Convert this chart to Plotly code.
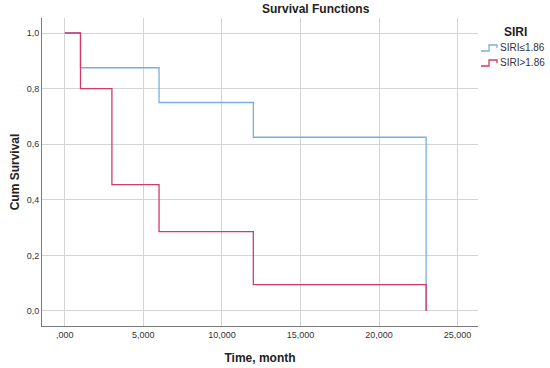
import plotly.graph_objects as go

# Data
time_low = [0, 1, 6, 12, 23]
surv_low = [1.0, 0.875, 0.75, 0.625, 0.0]
time_high = [0, 1, 3, 6, 12, 23]
surv_high = [1.0, 0.8, 0.4545, 0.2857, 0.0952, 0.0]
series_names = ["SIRI≤1.86", "SIRI>1.86"]
x_ticks = [0, 5, 10, 15, 20, 25]
x_ticklabels = [",000", "5,000", "10,000", "15,000", "20,000", "25,000"]
y_ticks = [0, 0.2, 0.4, 0.6, 0.8, 1.0]
y_ticklabels = ["0,0", "0,2", "0,4", "0,6", "0,8", "1,0"]

blue = "#7aaee0"
red = "#d43a68"
colors = [blue, red]
font = "Liberation Sans, Arial, sans-serif"

W, H = 550, 368
L, R, T, B = 42, 478, 18, 326


def px(x):
    return (x - L) / (R - L)


def py(y):
    return (B - y) / (B - T)


fig = go.Figure()
fig.add_trace(go.Scatter(x=time_low, y=surv_low, mode="lines", line_shape="hv",
                         line=dict(color=blue, width=1.3), name=series_names[0]))
fig.add_trace(go.Scatter(x=time_high, y=surv_high, mode="lines", line_shape="hv",
                         line=dict(color=red, width=1.3), name=series_names[1]))

annotations = [
    dict(text="<b>Survival Functions</b>", xref="paper", yref="paper", x=px(316), y=py(9),
         xanchor="center", yanchor="middle", showarrow=False, font=dict(size=12, color="#222222")),
    dict(text="<b>SIRI</b>", xref="paper", yref="paper", x=px(502), y=py(32),
         xanchor="left", yanchor="middle", showarrow=False, font=dict(size=12, color="#222222")),
]
shapes = []
for i, (name, c) in enumerate(zip(series_names, colors)):
    yc = 48 + 15 * i
    annotations.append(dict(text=name, xref="paper", yref="paper", x=px(498), y=py(yc),
                            xanchor="left", yanchor="middle", showarrow=False,
                            font=dict(size=10, color="#333333")))
    path = "M{a},{b} L{c},{b} L{c},{d} L{e},{d} L{e},{f}".format(
        a=px(481), b=py(yc + 3), c=px(489), d=py(yc - 3), e=px(497), f=py(yc))
    shapes.append(dict(type="path", path=path, xref="paper", yref="paper",
                       line=dict(color=c, width=1.3)))

fig.update_layout(
    width=W, height=H,
    margin=dict(l=L, r=W - R, t=T, b=H - B),
    paper_bgcolor="white", plot_bgcolor="white",
    font=dict(family=font, size=9, color="#333333"),
    showlegend=False,
    annotations=annotations,
    shapes=shapes,
)
fig.update_xaxes(range=[-1.45, 26.3], tickvals=x_ticks, ticktext=x_ticklabels, automargin=False,
                 showgrid=True, gridcolor="#d4d4d4", gridwidth=1, zeroline=False,
                 showline=True, linecolor="#7a7a7a", linewidth=1, ticks="", ticklen=0,
                 title=dict(text="<b>Time, month</b>", font=dict(size=12, color="#222222"), standoff=14))
fig.update_yaxes(range=[-0.054, 1.054], tickvals=y_ticks, ticktext=y_ticklabels, automargin=False,
                 showgrid=True, gridcolor="#d4d4d4", gridwidth=1, zeroline=False,
                 showline=True, linecolor="#7a7a7a", linewidth=1, ticks="",
                 title=dict(text="<b>Cum Survival</b>", font=dict(size=12, color="#222222"), standoff=4))

fig.write_html("out.html", config={"displayModeBar": False},
               post_script="document.body.style.margin='0';document.body.style.overflow='hidden';")
